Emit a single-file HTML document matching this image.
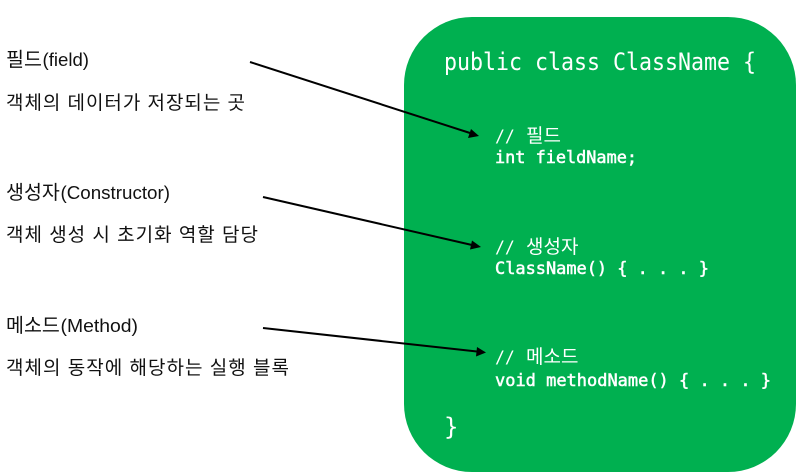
<!DOCTYPE html>
<html lang="ko"><head><meta charset="utf-8">
<style>
html,body{margin:0;padding:0;background:#fff}
svg{display:block}
.k{font-family:"Liberation Sans","Noto Sans CJK KR",sans-serif;font-size:19px;fill:#111}
.t{font-size:19.5px}
.l{font-family:"Liberation Sans",sans-serif;font-size:18.500px;fill:#111}
.m{font-family:"DejaVu Sans Mono","Liberation Mono","Noto Sans CJK KR",monospace;fill:#fff}
.h{font-size:24px}
.c{font-size:16.5px;stroke:#fff;stroke-width:.5px}
.n{font-size:16.5px}
.b{font-family:"Noto Sans CJK KR",sans-serif;font-size:19px}
</style></head><body>
<svg width="800" height="476" viewBox="0 0 800 476" xmlns="http://www.w3.org/2000/svg">
<rect x="404" y="17" width="392" height="455" rx="68" ry="68" fill="#00b050"/>
<text class="k t" x="6" y="66">필드</text>
<text class="l" x="42.500" y="66" textLength="46.500" lengthAdjust="spacingAndGlyphs">(field)</text>
<text class="k" x="6" y="109" textLength="239" lengthAdjust="spacing">객체의 데이터가 저장되는 곳</text>
<text class="k t" x="6" y="199">생성자</text>
<text class="l" x="60.500" y="199" textLength="109.500" lengthAdjust="spacingAndGlyphs">(Constructor)</text>
<text class="k" x="6" y="241" textLength="252" lengthAdjust="spacing">객체 생성 시 초기화 역할 담당</text>
<text class="k t" x="6" y="332">메소드</text>
<text class="l" x="60.500" y="332" textLength="77.500" lengthAdjust="spacingAndGlyphs">(Method)</text>
<text class="k" x="6" y="374" textLength="283" lengthAdjust="spacing">객체의 동작에 해당하는 실행 블록</text>
<text class="m h" x="444" y="70" textLength="312" lengthAdjust="spacingAndGlyphs">public class ClassName {</text>
<text class="m n" x="495" y="142">//</text><text class="m b" x="526" y="142">필드</text>
<text class="m c" x="495" y="163" textLength="142" lengthAdjust="spacingAndGlyphs">int fieldName;</text>
<text class="m n" x="495" y="253">//</text><text class="m b" x="526" y="253">생성자</text>
<text class="m c" x="495" y="274" textLength="214" lengthAdjust="spacingAndGlyphs">ClassName() { . . . }</text>
<text class="m n" x="495" y="363">//</text><text class="m b" x="526" y="363">메소드</text>
<text class="m c" x="495" y="386" textLength="276" lengthAdjust="spacingAndGlyphs">void methodName() { . . . }</text>
<text class="m h" x="444" y="435">}</text>
<g stroke="#000" stroke-width="2" fill="#000">
<line x1="250" y1="62" x2="470" y2="133"/>
<polygon stroke="none" points="479,136 468,138 471,129"/>
<line x1="263" y1="197" x2="472" y2="245"/>
<polygon stroke="none" points="481,247 470,249.500 472,240.500"/>
<line x1="263" y1="328" x2="477" y2="351.500"/>
<polygon stroke="none" points="486,352.500 476,356.500 477,347"/>
</g>
</svg>
</body></html>
